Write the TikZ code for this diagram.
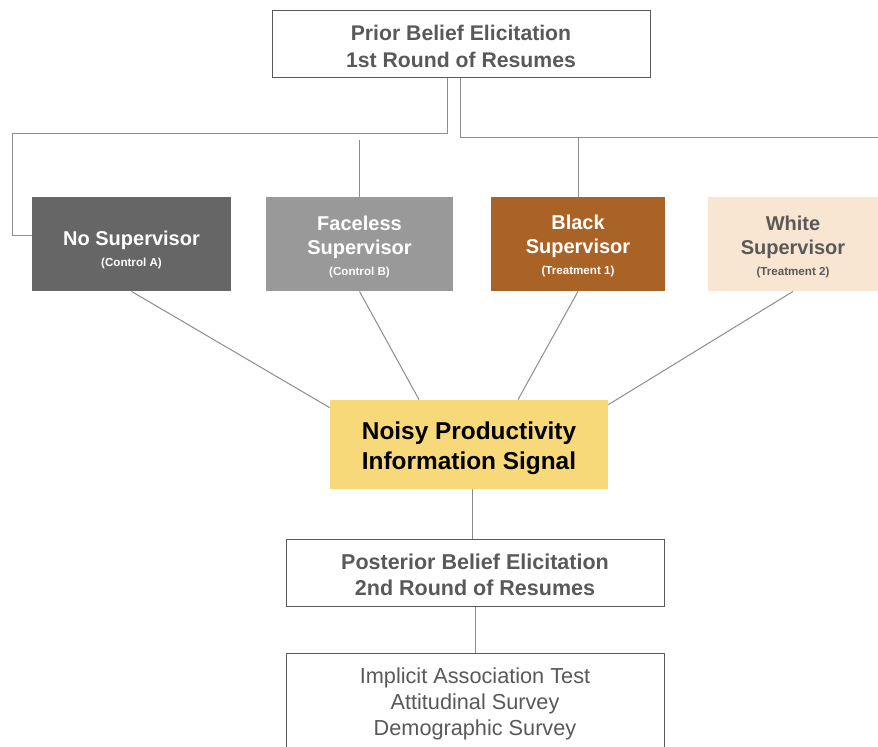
\documentclass[tikz,border=0pt]{standalone}
\usepackage{fontspec}
\setmainfont{Liberation Sans}
\definecolor{TextGray}{RGB}{89, 89, 89}
\definecolor{LineGray}{RGB}{140, 140, 140}
\definecolor{DarkBox}{RGB}{102, 102, 102}
\definecolor{MidBox}{RGB}{153, 153, 153}
\definecolor{BrownBox}{RGB}{169, 99, 39}
\definecolor{PeachBox}{RGB}{249, 230, 210}
\definecolor{SignalYellow}{RGB}{248, 217, 122}
\newcommand{\subfont}{\fontsize{5.8}{7}\selectfont}
\newcommand{\padtop}[1]{\rule{0pt}{#1}}

\begin{document}
\begin{tikzpicture}[x=0.5pt, y=-0.5pt,
		stage/.style={draw=TextGray, line width=0.5pt, fill=white, text=TextGray, align=center, inner sep=0pt},
		armbox/.style={minimum height=47pt, inner sep=0pt},
		armtext/.style={align=center, inner sep=0pt, font=\fontsize{10}{12}\selectfont\bfseries},
		link/.style={draw=LineGray, line width=0.5pt}]
		\useasboundingbox (0, 0) rectangle (878, 746);
		% stages
		\node[stage, minimum width=189pt, minimum height=33.5pt, font=\fontsize{10.6}{13.5}\selectfont\bfseries]
			(prior) at (461, 43.5) {\padtop{10.8pt}Prior Belief Elicitation\\1st Round of Resumes};
		\node[fill=SignalYellow, align=center, inner sep=0pt, minimum width=139pt, minimum height=44.5pt,
			font=\fontsize{12.2}{15}\selectfont\bfseries] (signal) at (469, 444.5)
			{\padtop{13pt}Noisy Productivity\\Information Signal};
		\node[stage, minimum width=189pt, minimum height=33.5pt, font=\fontsize{10.75}{13}\selectfont\bfseries]
			(posterior) at (475, 572.5) {\padtop{10pt}Posterior Belief Elicitation\\2nd Round of Resumes};
		\node[stage, minimum width=189pt, minimum height=48pt, font=\fontsize{10.85}{13}\selectfont]
			(surveys) at (475, 701) {\padtop{10.5pt}Implicit Association Test\\Attitudinal Survey\\Demographic Survey};
		% arms
		\foreach \nm/\cx/\bw/\fillc/\txtc/\ty/\main/\sub in {
			no/131.5/199/DarkBox/white/250/No Supervisor/Control A,
			faceless/359.5/187/MidBox/white/246.5/Faceless\\Supervisor/Control B,
			black/578/174/BrownBox/white/245.5/Black\\Supervisor/Treatment 1,
			white/793/170/PeachBox/TextGray/246.5/White\\Supervisor/Treatment 2}{
			\node[armbox, fill=\fillc, minimum width=\bw*0.5pt] (\nm) at (\cx, 244) {};
			\node[armtext, text=\txtc] (\nm-text) at (\cx, \ty) {\main\\[-1.5pt]{\subfont (\sub)}};
		}
		% connectors
		\draw[link] ([xshift=-7pt]prior.south) |- (12, 133) |- ([yshift=4.5pt]no.west);
		\draw[link] ([xshift=-0.5pt]prior.south) |- (878, 137);
		\draw[link] (faceless.north) -- ++(0, -57);
		\draw[link] (black.north) -- ++(0, -60);
		\draw[link] (no.south) -- ([yshift=-4pt]signal.north west);
		\draw[link] (faceless.south) -- ([xshift=-25pt]signal.north);
		\draw[link] (black.south) -- ([xshift=24.5pt]signal.north);
		\draw[link] (white.south) -- ([yshift=-2.5pt]signal.north east);
		\draw[link] ([xshift=1.5pt]signal.south) -- ([xshift=-1.5pt]posterior.north);
		\draw[link] (posterior.south) -- (surveys.north);
	\end{tikzpicture}
\end{document}
